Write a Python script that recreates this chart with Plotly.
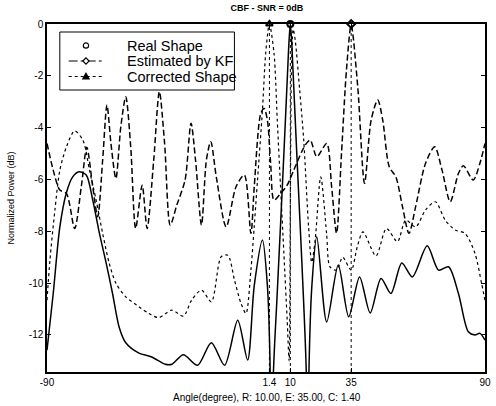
import plotly.graph_objects as go

# ---- data (angle in degrees, power in dB) ----
real_angle = [-90, -87.44, -84.72, -82.0, -79.44, -76.88, -73.88, -71.2, -68.47, -65.75,
              -63.07, -60.35, -57.63, -52.23, -46.95, -41.39, -38.7, -33.95, -28.15, -22.46,
              -17.02, -11.62, -7.55, -4.83, -1.46, 0.57, 1.6, 2.3, 3.0, 4.5, 6.0, 7.5, 8.8,
              9.5, 10.0, 10.5, 11.2, 12.5, 14.0, 15.5, 16.6, 17.1, 17.6, 18.85, 20.87, 24.94,
              29.69, 34.0, 38.46, 42.81, 47.28, 51.34, 55.8, 60.15, 66.24, 70.95, 75.0, 79.08,
              83.14, 85.86, 87.89, 90]
real_db = [-12.59, -10.4, -7.83, -6.5, -5.9, -5.70, -5.83, -6.8, -8.07, -9.2,
           -10.4, -11.7, -12.3, -12.7, -12.85, -13.13, -13.13, -12.76, -13.17, -12.3,
           -13.17, -11.43, -12.97, -10.1, -8.34, -10.1, -12.8, -20, -13.6, -10.6, -7.7, -4.7, -2.0,
           -0.6, 0.0, -0.6, -2.0, -4.7, -7.7, -10.8, -13.6, -20, -13.6, -10.1, -8.21, -11.5,
           -9.3, -11.3, -9.76, -11.15, -9.82, -10.4, -9.22, -9.76, -8.56, -9.5, -9.37, -10.4,
           -11.88, -12.0, -11.94, -12.2]

kf_angle = [-90, -87.44, -84.72, -82.0, -78.63, -75.91, -73.63, -71.2, -69.17, -67.13,
            -65.35, -63.72, -61.69, -59.66, -57.63, -55.6, -53.57, -50.89, -48.86, -46.14,
            -43.82, -41.67, -39.35, -36.67, -33.26, -30.82, -28.96, -26.52, -24.49, -22.7,
            -20.43, -16.37, -12.31, -8.89, -6.21, -4.83, -2.15, -0.77, 0.57, 1.91, 3.29,
            5.97, 8.69, 11.41, 16.12, 18.16, 20.87, 24.94, 26.97, 29.0, 31.03, 33.06, 35.0,
            37.7, 40.49, 43.21, 45.93, 47.97, 50.65, 53.37, 56.09, 58.77, 61.49, 65.55,
            69.33, 72.34, 75.71, 79.08, 81.11, 85.17, 87.89, 90]
kf_db = [-4.61, -5.64, -6.41, -6.54, -7.89, -6.28, -4.76, -6.28, -7.44, -5.25,
         -3.13, -4.61, -5.96, -3.96, -2.81, -4.74, -7.89, -6.22, -7.89, -5.25,
         -2.61, -4.61, -7.76, -6.99, -6.02, -3.83, -5.25, -7.76, -5.25, -4.54,
         -5.9, -7.83, -6.28, -5.83, -8.08, -6.28, -3.45, -3.26, -3.71, -5.38, -6.8,
         -6.54, -6.22, -5.64, -4.67, -4.48, -5.12, -4.61, -6.28, -8.08, -4.99, -1.78, -0.05,
         -2.42, -6.15, -3.71, -2.93, -3.71, -5.51, -5.9, -7.05, -8.08, -7.05, -5.38,
         -4.74, -5.64, -6.86, -5.77, -5.47, -6.02, -5.38, -4.61]

corr_angle = [-90, -88.78, -86.75, -84.72, -82.0, -78.63, -75.26, -72.54, -69.81, -67.13,
              -64.41, -61.69, -57.63, -52.23, -48.17, -44.11, -38.7, -33.95, -30.58, -26.52,
              -22.46, -18.4, -15.68, -12.96, -10.28, -8.24, -6.21, -4.83, -3.49, -1.46, -0.12,
              1.4, 3.29, 4.63, 5.97, 7.35, 8.69, 9.5, 10.0, 10.5, 11.2, 12.1, 13.8, 15.5,
              17.5, 18.8, 20.2, 22.5, 24.9, 26.3, 29.0, 31.5, 35.0, 37.5, 39.84, 45.2, 49.5,
              54.0, 57.43, 61.49, 65.55, 69.6, 73.67, 77.73, 81.79, 85.86, 88.58, 90]
corr_db = [-10.66, -9.1, -7.18, -5.64, -4.74, -4.13, -4.48, -5.64, -6.8, -8.08,
           -9.24, -10.0, -10.53, -10.91, -11.17, -11.33, -11.04, -11.27, -10.66, -10.27,
           -10.72, -8.98, -8.92, -9.88, -10.78, -11.17, -9.5, -7.8, -6.02, -3.32, -1.13,
           0.0, -1.13, -3.71, -6.28, -8.85, -11.4, -13.0, -7.0, -1.5, -0.2, -0.7, -2.5, -4.48,
           -7.83, -9.2, -8.34, -5.9, -8.08, -9.37, -9.5, -9.0, -9.5, -8.6, -8.02, -8.95, -7.89,
           -8.4, -7.57, -7.83, -7.18, -6.86, -7.57, -7.95, -8.08, -8.85, -10.0, -10.66]

peak_angles = [1.4, 10, 35]          # C, R, E
peak_symbols = ["triangle-up-open", "circle-open", "diamond-open"]

legend_labels = ["Real Shape", "Estimated by KF", "Corrected Shape"]

x_ticks = [-90, 1.4, 10, 35, 90]
x_ticktext = ["-90", "1.4", "10", "35", "90"]
y_ticks = [0, -2, -4, -6, -8, -10, -12]
y_min, y_max = -13.43, 0

FONT = "Arial, Liberation Sans, Helvetica, sans-serif"

# plot-area geometry in pixels (for placing the hand-drawn legend box)
W, H = 496, 406
ML, MR, MT, MB = 47, 5, 24, 34
PW, PH = W - ML - MR, H - MT - MB


def px(xp):
    return (xp - ML) / PW


def py(yp):
    return 1 - (yp - MT) / PH


fig = go.Figure()

# vertical dotted marker lines at the three directions
vx, vy = [], []
for a in peak_angles:
    vx += [a, a, None]
    vy += [y_min, y_max, None]
fig.add_trace(go.Scatter(x=vx, y=vy, mode="lines", showlegend=False,
                         line=dict(color="black", width=1, dash="dot"), hoverinfo="skip"))

fig.add_trace(go.Scatter(x=corr_angle, y=corr_db, mode="lines", showlegend=False,
                         line=dict(color="black", width=1.2, dash="dot",
                                   shape="spline", smoothing=0.8)))
fig.add_trace(go.Scatter(x=kf_angle, y=kf_db, mode="lines", showlegend=False,
                         line=dict(color="black", width=1.5, dash="6px,3px",
                                   shape="spline", smoothing=0.8)))
fig.add_trace(go.Scatter(x=real_angle, y=real_db, mode="lines", showlegend=False,
                         line=dict(color="black", width=1.5,
                                   shape="spline", smoothing=0.8)))

# peak markers
fig.add_trace(go.Scatter(x=peak_angles, y=[y_max] * len(peak_angles), mode="markers",
                         showlegend=False, cliponaxis=False,
                         marker=dict(symbol=peak_symbols, size=6, color="black",
                                     line=dict(width=2, color="black"))))

# ---- hand-drawn legend box (MATLAB style) ----
shapes = [dict(type="rect", xref="paper", yref="paper",
               x0=px(60), x1=px(237), y0=py(90), y1=py(32),
               line=dict(color="black", width=1), fillcolor="white", layer="above")]
row_y = [45.5, 61, 76.5]
# sample lines
shapes.append(dict(type="line", xref="paper", yref="paper", x0=px(69), x1=px(104),
                   y0=py(row_y[1]), y1=py(row_y[1]),
                   line=dict(color="black", width=1, dash="dashdot"), layer="above"))
shapes.append(dict(type="line", xref="paper", yref="paper", x0=px(69), x1=px(104),
                   y0=py(row_y[2]), y1=py(row_y[2]),
                   line=dict(color="black", width=1, dash="dot"), layer="above"))
# sample symbols: circle, diamond, triangle
cx = 86.5
shapes.append(dict(type="circle", xref="paper", yref="paper",
                   x0=px(cx - 2.7), x1=px(cx + 2.7), y0=py(row_y[0] + 2.7), y1=py(row_y[0] - 2.7),
                   line=dict(color="black", width=1.2), fillcolor="white", layer="above"))
d = 3.2
shapes.append(dict(type="path", xref="paper", yref="paper",
                   path=(f"M {px(cx-d)} {py(row_y[1])} L {px(cx)} {py(row_y[1]-d)} "
                         f"L {px(cx+d)} {py(row_y[1])} L {px(cx)} {py(row_y[1]+d)} Z"),
                   line=dict(color="black", width=1.2), fillcolor="white", layer="above"))
t = 3.2
shapes.append(dict(type="path", xref="paper", yref="paper",
                   path=(f"M {px(cx-t)} {py(row_y[2]+2.4)} L {px(cx)} {py(row_y[2]-3.2)} "
                         f"L {px(cx+t)} {py(row_y[2]+2.4)} Z"),
                   line=dict(color="black", width=1.2), fillcolor="black", layer="above"))

annotations = []
for lbl, ry in zip(legend_labels, row_y):
    annotations.append(dict(text=lbl, xref="paper", yref="paper", x=px(126), y=py(ry),
                            xanchor="left", yanchor="middle", showarrow=False,
                            font=dict(family=FONT, size=14.5, color="black")))

annotations += [
    dict(text="Angle(degree), R: 10.00, E: 35.00, C: 1.40", xref="paper", yref="paper",
         x=px(270), y=py(397), xanchor="center", yanchor="middle", showarrow=False,
         font=dict(family=FONT, size=10, color="black")),
    dict(text="Normalized Power (dB)", xref="paper", yref="paper",
         x=px(10), y=py(198), xanchor="center", yanchor="middle", textangle=-90,
         showarrow=False, font=dict(family=FONT, size=9, color="black")),
]

axis_common = dict(showgrid=False, zeroline=False, showline=True, linecolor="black",
                   linewidth=1.5, mirror="ticks", ticks="inside", ticklen=4,
                   tickcolor="black", tickfont=dict(family=FONT, size=10, color="black"))

fig.update_xaxes(range=[-90, 90], tickvals=x_ticks, ticktext=x_ticktext, **axis_common)
fig.update_yaxes(range=[y_min, y_max], tickvals=y_ticks,
                 ticktext=[str(v) for v in y_ticks], **axis_common)

fig.update_layout(
    width=W, height=H,
    margin=dict(l=ML, r=MR, t=MT, b=MB),
    plot_bgcolor="white", paper_bgcolor="white",
    font=dict(family=FONT, color="black"),
    showlegend=False,
    title=dict(text="<b>CBF - SNR = 0dB</b>", x=px(270), xanchor="center", xref="paper",
               y=1 - 8 / H, yanchor="middle", yref="container",
               font=dict(family=FONT, size=9, color="black")),
    shapes=shapes,
    annotations=annotations,
)

fig.write_html("out.html", config={"displayModeBar": False},
               post_script="document.body.style.margin='0';document.body.style.padding='0';")
